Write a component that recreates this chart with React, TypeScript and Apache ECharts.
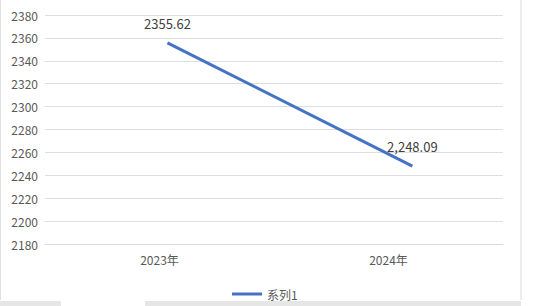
import React, { useEffect, useRef } from "react";
import * as echarts from "echarts";

const categories = ["2023年", "2024年"];
const values = [2355.62, 2248.09];
const valueLabels = ["2355.62", "2,248.09"];
const seriesName = "系列1";
const yMin = 2180;
const yMax = 2380;
const yStep = 20;

const FONT = "'Noto Sans CJK SC', 'Noto Sans', sans-serif";

export default function App() {
  const ref = useRef<HTMLDivElement>(null);
  useEffect(() => {
    if (!ref.current) return;
    const chart = echarts.init(ref.current, undefined, { renderer: "svg" });
    chart.setOption({
      animation: false,
      backgroundColor: "#ffffff",
      textStyle: { fontFamily: FONT },
      grid: { left: 45, right: 51, top: 15, bottom: 62 },
      legend: {
        data: [seriesName],
        left: 227,
        top: 283,
        icon: "rect",
        itemWidth: 30,
        itemHeight: 3,
        itemGap: 10,
        textStyle: { color: "#595959", fontSize: 12, fontFamily: FONT },
      },
      xAxis: [
        {
          type: "category",
          data: categories,
          boundaryGap: true,
          axisLine: { show: true, lineStyle: { color: "#d9d9d9" } },
          axisTick: { show: false },
          axisLabel: { color: "#595959", fontSize: 12, margin: 9, fontFamily: FONT },
        },
        {
          type: "value",
          min: -0.5,
          max: 1.37,
          show: false,
        },
      ],
      yAxis: {
        type: "value",
        min: yMin,
        max: yMax,
        interval: yStep,
        axisLine: { show: false },
        axisTick: { show: false },
        axisLabel: {
          color: "#595959",
          fontSize: 12,
          margin: 7,
          fontFamily: FONT,
          formatter: (v: number) => String(v),
        },
        splitLine: { lineStyle: { color: "#dedede", width: 1 } },
      },
      series: [
        {
          name: seriesName,
          type: "line",
          xAxisIndex: 1,
          data: values.map((v, i) => [i, v]),
          showSymbol: true,
          symbol: "circle",
          symbolSize: 0.1,
          lineStyle: { color: "#4472C4", width: 3 },
          itemStyle: { color: "#4472C4" },
          label: {
            show: true,
            position: "top",
            distance: 13,
            color: "#404040",
            fontSize: 13,
            fontFamily: FONT,
            formatter: (p: any) => valueLabels[p.dataIndex],
          },
        },
      ],
      graphic: [
        { type: "line", shape: { x1: 521, y1: 0, x2: 521, y2: 300 }, style: { stroke: "#d9d9d9", lineWidth: 1 } },
        { type: "line", shape: { x1: 0.5, y1: 0, x2: 0.5, y2: 300 }, style: { stroke: "#e0e0e0", lineWidth: 1 } },
        { type: "rect", shape: { x: 0, y: 301, width: 61, height: 5 }, style: { fill: "#e6e6e6" } },
        { type: "rect", shape: { x: 145, y: 301, width: 376, height: 5 }, style: { fill: "#e6e6e6" } },
      ],
    });
    return () => chart.dispose();
  }, []);
  return (
    <div
      ref={ref}
      style={{ position: "fixed", left: 0, top: 0, width: 554, height: 306 }}
    />
  );
}
